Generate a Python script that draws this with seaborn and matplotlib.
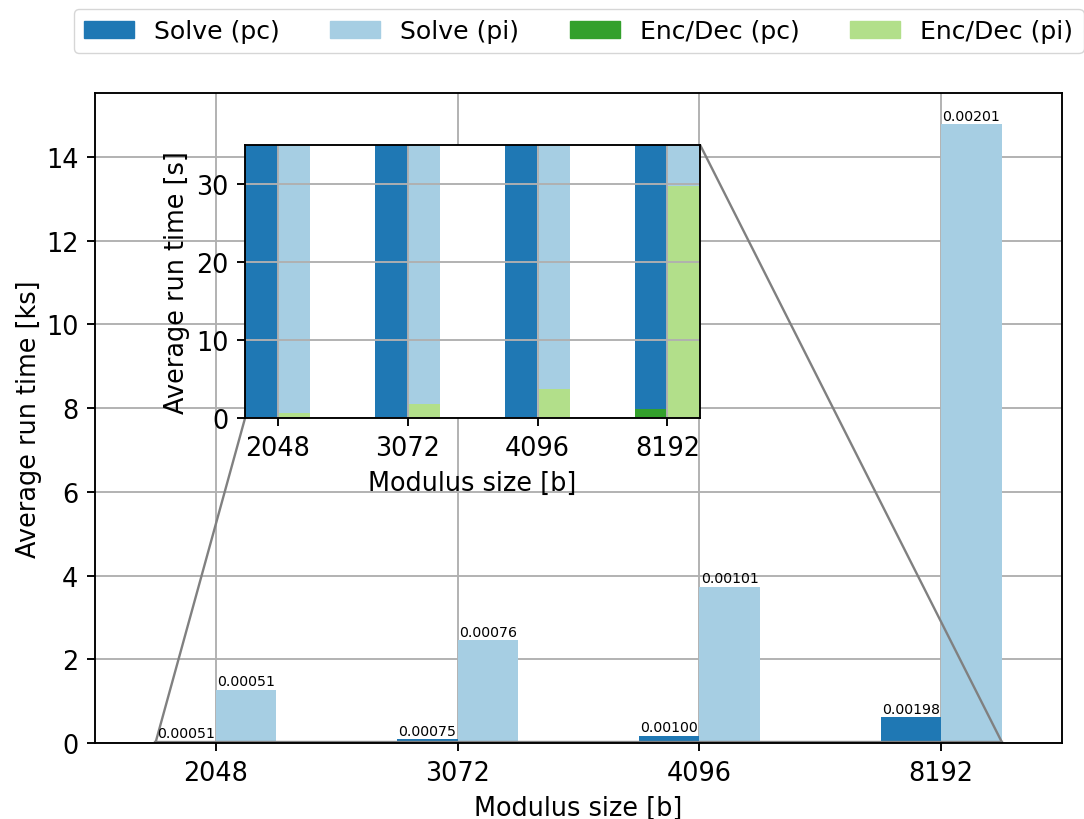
import numpy as np
import pandas as pd
import matplotlib
matplotlib.use("Agg")
import matplotlib.pyplot as plt
import seaborn as sns
from matplotlib.patches import Patch
from matplotlib.transforms import Bbox, TransformedBbox
from mpl_toolkits.axes_grid1.inset_locator import BboxPatch, BboxConnector

# Modulus sizes in bits
sizes = ["2048", "3072", "4096", "8192"]
# Average run times in seconds
solve_pc = [45.0, 85.0, 170.0, 620.0]
solve_pi = [1270.0, 2460.0, 3730.0, 14780.0]
encdec_pc = [0.023, 0.064, 0.17, 1.23]
encdec_pi = [0.65, 1.87, 3.77, 29.7]

variants = ["pc", "pi"]
solve_colors = ["#1f78b4", "#a6cee3"]
encdec_colors = ["#33a02c", "#b2df8a"]

sns.set_style("ticks")
FS = 18.4
LW = 1.36
plt.rcParams.update({
    "font.family": ["DejaVu Sans"],
    "font.size": FS,
    "text.color": "black",
    "axes.labelcolor": "black",
    "axes.linewidth": LW,
    "axes.labelpad": 6.8,
    "xtick.major.width": LW,
    "ytick.major.width": LW,
    "xtick.major.size": 6.0,
    "ytick.major.size": 6.0,
    "xtick.major.pad": 6.0,
    "ytick.major.pad": 6.0,
    "xtick.color": "black",
    "ytick.color": "black",
    "axes.edgecolor": "black",
    "grid.color": "#b0b0b0",
    "grid.linewidth": LW,
    "xtick.labelsize": FS,
    "ytick.labelsize": FS,
    "axes.labelsize": FS,
    "legend.fontsize": 18.1,
})

solve = pd.DataFrame({
    "size": sizes * 2,
    "variant": ["pc"] * 4 + ["pi"] * 4,
    "seconds": solve_pc + solve_pi,
})
solve["ks"] = solve["seconds"] / 1000.0
encdec = pd.DataFrame({
    "size": sizes * 2,
    "variant": ["pc"] * 4 + ["pi"] * 4,
    "seconds": encdec_pc + encdec_pi,
})
encdec["ks"] = encdec["seconds"] / 1000.0

fig = plt.figure(figsize=(10.84, 8.2), dpi=100)
ax = fig.add_axes([95 / 1084, 76 / 820, 967 / 1084, 649.7 / 820])


def draw_bars(axis, column):
    kw = dict(x="size", hue="variant", hue_order=variants, order=sizes,
              width=0.5, gap=0, dodge=True, errorbar=None, saturation=1,
              legend=False, ax=axis, linewidth=0)
    sns.barplot(data=solve, y=column, palette=solve_colors, **kw)
    sns.barplot(data=encdec, y=column, palette=encdec_colors, **kw)


draw_bars(ax, "ks")
ax.set_xlim(-0.5, 3.5)
ax.set_ylim(0, max(solve_pi) / 1000.0 * 1.05)
ax.set_axisbelow(True)
ax.grid(True)
ax.set_xlabel("Modulus size [b]")
ax.set_ylabel("Average run time [ks]", labelpad=3)

# Ratio of encode/decode time to solve time above each solve bar
ratios = {"pc": np.array(encdec_pc) / np.array(solve_pc),
          "pi": np.array(encdec_pi) / np.array(solve_pi)}
for container, var in zip(ax.containers[:2], variants):
    ax.bar_label(container, labels=[f"{r:.5f}" for r in ratios[var]],
                 fontsize=10.2, padding=1)

# Zoomed view of the low range in seconds
inset_xlim = (-0.25, 3.25)
inset_ylim = (0, 35)
axins = fig.add_axes([245 / 1084, (820 - 419.3) / 820, 455 / 1084, 273.6 / 820])
draw_bars(axins, "seconds")
axins.set_xlim(*inset_xlim)
axins.set_ylim(*inset_ylim)
axins.set_axisbelow("line")
axins.grid(True)
axins.set_xlabel("Modulus size [b]")
axins.set_ylabel("Average run time [s]", labelpad=4)
axins.set_yticks([0, 10, 20, 30])

# Outline of the zoomed region in the main axes (ks) and connector lines
region = TransformedBbox(
    Bbox.from_extents(inset_xlim[0], inset_ylim[0] / 1000.0,
                      inset_xlim[1], inset_ylim[1] / 1000.0),
    ax.transData)
box = BboxPatch(region, fc="none", ec="0.5", lw=1.7)
ax.add_patch(box)
for loc in (3, 1):
    conn = BboxConnector(axins.bbox, region, loc1=loc, loc2=loc,
                         ec="0.5", lw=1.7)
    conn.set_clip_on(False)
    ax.add_patch(conn)

handles = [
    Patch(color=solve_colors[0], label="Solve (pc)"),
    Patch(color=solve_colors[1], label="Solve (pi)"),
    Patch(color=encdec_colors[0], label="Enc/Dec (pc)"),
    Patch(color=encdec_colors[1], label="Enc/Dec (pi)"),
]
ax.legend(handles=handles, loc="lower center", bbox_to_anchor=(0.5, 1.042),
          ncol=4, frameon=True)

fig.savefig("out.png", dpi=100)
